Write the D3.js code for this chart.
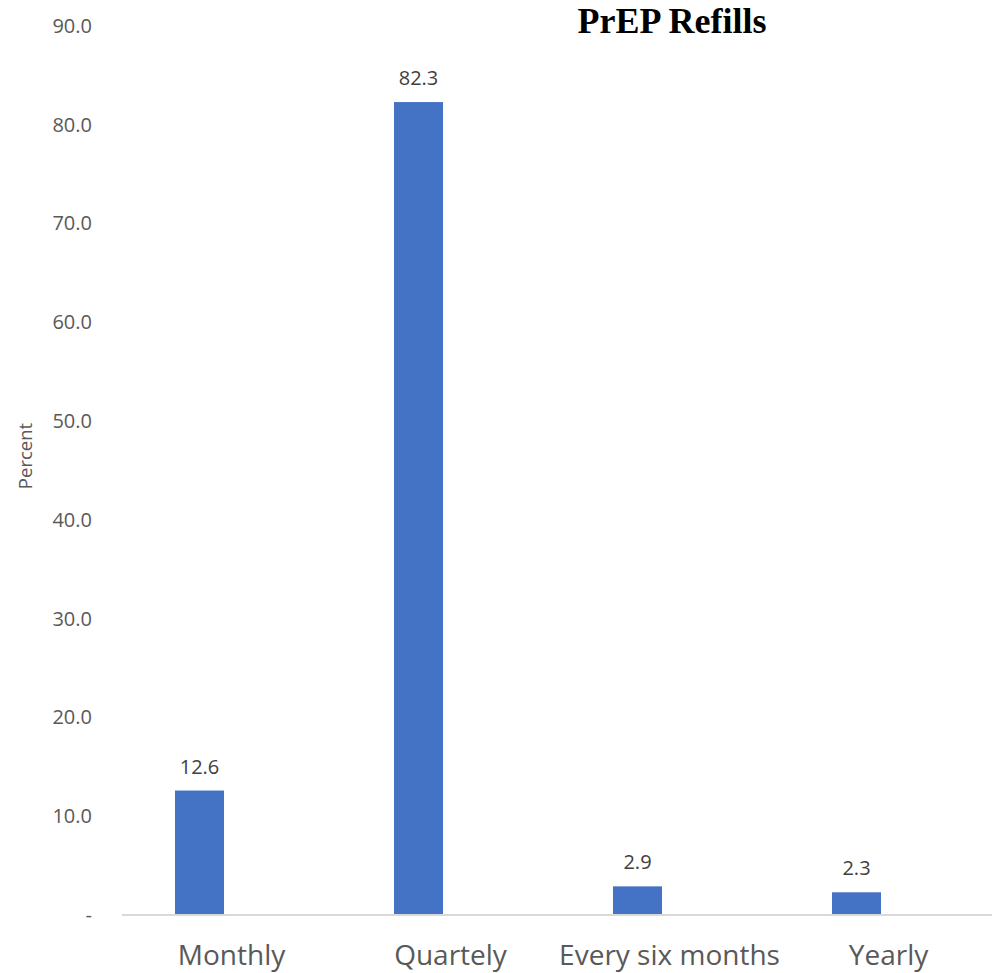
<!DOCTYPE html>
<html>
<head>
<meta charset="utf-8">
<script src="https://cdn.jsdelivr.net/npm/d3@7"></script>
<style>
  html, body { margin: 0; padding: 0; background: #fff; }
  svg { display: block; }
</style>
</head>
<body>
<svg id="chart" width="992" height="973"></svg>
<script>
// Refill frequency categories and share of respondents (%)
const categories = ["Monthly", "Quartely", "Every six months", "Yearly"];
const values = [12.6, 82.3, 2.9, 2.3];
const yTicks = [0, 10, 20, 30, 40, 50, 60, 70, 80, 90];
const seriesSlots = ["Percent", "spare"];

const svg = d3.select("#chart");
const W = 992, H = 973;
const plot = { left: 122, right: 998, top: 26, bottom: 915 };

const x = d3.scaleBand().domain(categories).range([plot.left, plot.right]);
const xSlot = d3.scaleBand().domain(seriesSlots).range([0, x.bandwidth()])
  .paddingInner(0.234).paddingOuter(0.828);
const y = d3.scaleLinear().domain([0, 90]).range([plot.bottom, plot.top]);

const font = "'Open Sans', 'Noto Sans', sans-serif";
const grey = "#595959";

// Y axis labels (no line, no ticks)
const yAxis = d3.axisLeft(y).tickValues(yTicks)
  .tickFormat(d => d === 0 ? "-" : d3.format(".1f")(d))
  .tickSize(0).tickPadding(0);
const yG = svg.append("g").attr("transform", `translate(92,0)`).call(yAxis);
yG.select(".domain").remove();
yG.selectAll("text").attr("font-family", font).attr("font-size", 20).attr("fill", grey);

// Axis title
svg.append("text")
  .attr("transform", `translate(32,456) rotate(-90)`)
  .attr("text-anchor", "middle")
  .attr("font-family", font).attr("font-size", 18.5).attr("fill", grey)
  .text("Percent");

// Bars
svg.append("g").selectAll("rect").data(values).join("rect")
  .attr("x", (d, i) => x(categories[i]) + xSlot("Percent"))
  .attr("width", xSlot.bandwidth())
  .attr("y", d => y(d))
  .attr("height", d => y(0) - y(d))
  .attr("fill", "#4472C4");

// Value labels
svg.append("g").selectAll("text").data(values).join("text")
  .attr("x", (d, i) => x(categories[i]) + xSlot("Percent") + xSlot.bandwidth() / 2)
  .attr("y", d => y(d) - 17)
  .attr("text-anchor", "middle")
  .attr("font-family", font).attr("font-size", 20).attr("fill", "#404040")
  .text(d => d3.format(".1f")(d));

// Category axis
const xAxis = d3.axisBottom(x).tickSize(0).tickPadding(30);
const xG = svg.append("g").attr("transform", `translate(0,${plot.bottom})`).call(xAxis);
xG.select(".domain").attr("stroke", "#d9d9d9").attr("stroke-width", 2)
  .attr("d", `M${plot.left},0H${W}`);
xG.selectAll("text").attr("font-family", font).attr("font-size", 28).attr("fill", grey);

// Title
svg.append("text")
  .attr("x", 672).attr("y", 33)
  .attr("text-anchor", "middle")
  .attr("font-family", "'Liberation Serif', 'Times New Roman', serif")
  .attr("font-weight", "bold").attr("font-size", 36).attr("fill", "#000")
  .text("PrEP Refills");
</script>
</body>
</html>
